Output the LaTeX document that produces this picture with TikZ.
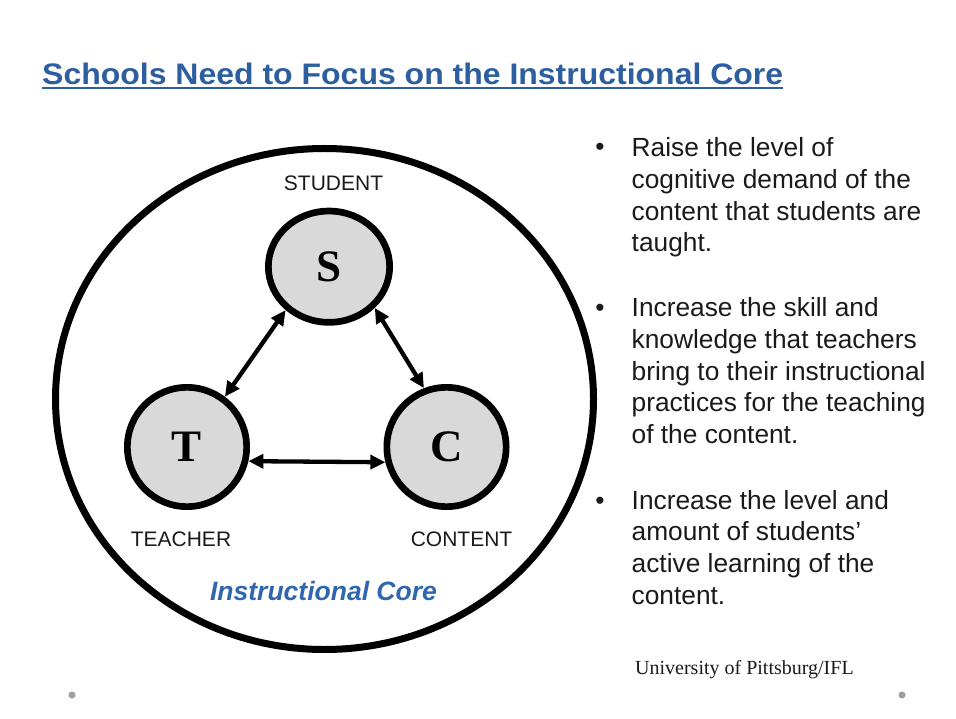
\documentclass[tikz,border=0pt]{standalone}
\usepackage{fontspec}
\setmainfont{Liberation Sans}
\newfontfamily\seriffont{Liberation Serif}
\usetikzlibrary{shapes.geometric,arrows.meta}
\pgfdeclareradialshading{slidebg}{\pgfpoint{0bp}{0bp}}{color(0bp)=(white); color(35bp)=(white); color(90bp)=(black!13); color(130bp)=(black!24)}
\definecolor{titleblue}{HTML}{2C5EA0}
\definecolor{coreblue}{HTML}{2F66AE}
\definecolor{fillgray}{HTML}{D9D9D9}
\definecolor{txt}{HTML}{1A1A1A}
\begin{document}
\begin{tikzpicture}[x=1pt,y=-1pt,
  letter/.style={draw=black, line width=6.7pt, fill=fillgray, font=\seriffont\bfseries\fontsize{45}{54}\selectfont, inner sep=0pt},
  role/.style={font=\fontsize{21}{25}\selectfont, text=txt, anchor=base, inner sep=0pt},
  link/.style={line width=4.3pt, {Triangle[length=15pt,width=14pt]}-{Triangle[length=15pt,width=14pt]}},
  bodytext/.style={font=\fontsize{26.3}{31.67}\selectfont, text=txt, align=left, anchor=base west, inner sep=0pt},
  bulletmark/.style={font=\fontsize{26.3}{26.3}\selectfont, text=txt, anchor=base, inner sep=0pt},
  slidedot/.style={circle, fill=black!38, minimum size=7pt, inner sep=0pt},
]
\useasboundingbox (0,0) rectangle (956,719);
\fill[white] (0,0) rectangle (956,719);
\begin{scope}
  \clip (9,7) rectangle (956,713);
  \shade[shading=slidebg] (-200,-278) rectangle (1160,958);
\end{scope}

% title
\node[anchor=base west, inner sep=0pt, text=titleblue, font=\bfseries\fontsize{30}{36}\selectfont] (title) at (42,85)
  {\resizebox{741pt}{21.5pt}{Schools Need to Focus on the Instructional Core}};
\draw[titleblue, line width=2pt] ([yshift=-3pt]title.base west) -- ([yshift=-3pt]title.base east);

% instructional core
\node[ellipse, draw=black, line width=7pt, fill=white, minimum width=538pt, minimum height=501pt, inner sep=0pt] (core) at (324.5,399) {};

\node[letter, ellipse, minimum width=121.3pt, minimum height=111.3pt] (S) at (329,266.7) {S};
\node[letter, circle, minimum size=119.3pt] (T) at (187,447) {T};
\node[letter, circle, minimum size=119.3pt] (C) at (446.5,447) {C};

\draw[link] (S.-135.5) -- (T.53.8);
\draw[link] (S.-42) -- (C.111.7);
\draw[link] (T.-13.1) -- (C.-166.8);

\node[role] (lblS) at (333.5,191) {STUDENT};
\node[role] (lblT) at (181,546) {TEACHER};
\node[role] (lblC) at (461.5,546) {CONTENT};
\node[anchor=base, inner sep=0pt, text=coreblue, font=\bfseries\itshape\fontsize{26.5}{30}\selectfont] (coretitle) at (323.5,600) {Instructional Core};

% bullets (node base = baseline of the last line)
\node[bulletmark] (b1) at (600,156) {•};
\node[bodytext] (p1) at (631.5,251.7) {Raise the level of\\cognitive demand of the\\content that students are\\taught.};
\node[bulletmark] (b2) at (600,317) {•};
\node[bodytext] (p2) at (631.5,443.4) {Increase the skill and\\knowledge that teachers\\bring to their instructional\\practices for the teaching\\of the content.};
\node[bulletmark] (b3) at (600,509) {•};
\node[bodytext] (p3) at (631.5,604.3) {Increase the level and\\amount of students’\\active learning of the\\content.};

% footer
\node[anchor=base west, inner sep=0pt, font=\seriffont\fontsize{20}{24}\selectfont, text=txt] (credit) at (635,674) {University of Pittsburg/IFL};
\node[slidedot] (dotL) at (72,695) {};
\node[slidedot] (dotR) at (902,695) {};
\end{tikzpicture}
\end{document}
